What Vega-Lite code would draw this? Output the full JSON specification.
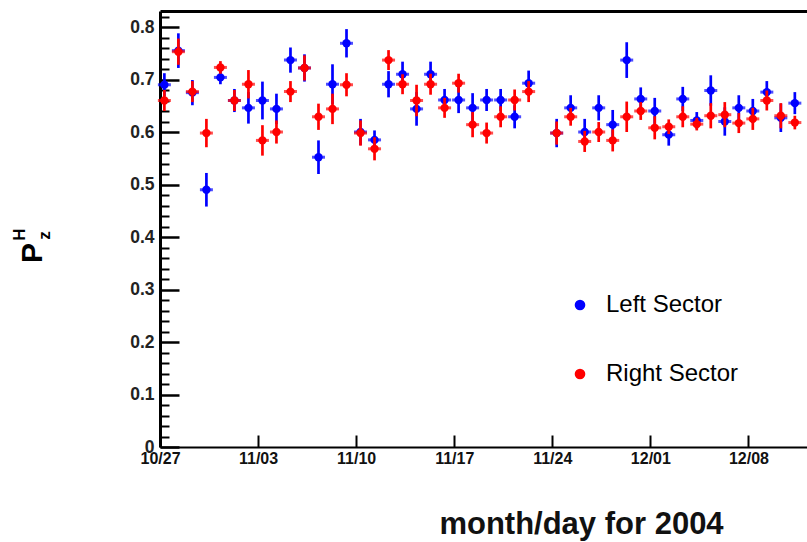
{
  "$schema": "https://vega.github.io/schema/vega-lite/v6.json",
  "width": 647,
  "height": 436,
  "autosize": {"type": "none"},
  "padding": {"left": 160, "top": 11, "right": 0, "bottom": 95},
  "background": "white",
  "config": {
    "view": {"stroke": null},
    "font": "Liberation Sans",
    "legend": {
      "orient": "none",
      "legendX": 408,
      "legendY": 282,
      "title": null,
      "padding": 0,
      "symbolType": "circle",
      "symbolSize": 113,
      "symbolStrokeWidth": 0,
      "labelFont": "Liberation Sans",
      "labelFontSize": 24,
      "labelColor": "black",
      "labelOffset": 14,
      "rowPadding": 45
    }
  },
  "data": {
    "values": [
      {"d": "2004-10-27T07:30:00Z", "s": "Left Sector", "v": 0.690, "e": 0.022},
      {"d": "2004-10-28T07:30:00Z", "s": "Left Sector", "v": 0.755, "e": 0.033},
      {"d": "2004-10-29T07:30:00Z", "s": "Left Sector", "v": 0.675, "e": 0.024},
      {"d": "2004-10-30T07:30:00Z", "s": "Left Sector", "v": 0.490, "e": 0.032},
      {"d": "2004-10-31T07:30:00Z", "s": "Left Sector", "v": 0.704, "e": 0.013},
      {"d": "2004-11-01T07:30:00Z", "s": "Left Sector", "v": 0.660, "e": 0.022},
      {"d": "2004-11-02T07:30:00Z", "s": "Left Sector", "v": 0.646, "e": 0.030},
      {"d": "2004-11-03T07:30:00Z", "s": "Left Sector", "v": 0.660, "e": 0.036},
      {"d": "2004-11-04T07:30:00Z", "s": "Left Sector", "v": 0.644, "e": 0.029},
      {"d": "2004-11-05T07:30:00Z", "s": "Left Sector", "v": 0.737, "e": 0.024},
      {"d": "2004-11-06T07:30:00Z", "s": "Left Sector", "v": 0.722, "e": 0.026},
      {"d": "2004-11-07T07:30:00Z", "s": "Left Sector", "v": 0.552, "e": 0.032},
      {"d": "2004-11-08T07:30:00Z", "s": "Left Sector", "v": 0.691, "e": 0.038},
      {"d": "2004-11-09T07:30:00Z", "s": "Left Sector", "v": 0.769, "e": 0.027},
      {"d": "2004-11-10T07:30:00Z", "s": "Left Sector", "v": 0.600, "e": 0.025},
      {"d": "2004-11-11T07:30:00Z", "s": "Left Sector", "v": 0.585, "e": 0.018},
      {"d": "2004-11-12T07:30:00Z", "s": "Left Sector", "v": 0.691, "e": 0.025},
      {"d": "2004-11-13T07:30:00Z", "s": "Left Sector", "v": 0.710, "e": 0.024},
      {"d": "2004-11-14T07:30:00Z", "s": "Left Sector", "v": 0.644, "e": 0.032},
      {"d": "2004-11-15T07:30:00Z", "s": "Left Sector", "v": 0.710, "e": 0.024},
      {"d": "2004-11-16T07:30:00Z", "s": "Left Sector", "v": 0.661, "e": 0.021},
      {"d": "2004-11-17T07:30:00Z", "s": "Left Sector", "v": 0.661, "e": 0.025},
      {"d": "2004-11-18T07:30:00Z", "s": "Left Sector", "v": 0.646, "e": 0.028},
      {"d": "2004-11-19T07:30:00Z", "s": "Left Sector", "v": 0.661, "e": 0.021},
      {"d": "2004-11-20T07:30:00Z", "s": "Left Sector", "v": 0.661, "e": 0.021},
      {"d": "2004-11-21T07:30:00Z", "s": "Left Sector", "v": 0.629, "e": 0.022},
      {"d": "2004-11-22T07:30:00Z", "s": "Left Sector", "v": 0.693, "e": 0.024},
      {"d": "2004-11-24T07:30:00Z", "s": "Left Sector", "v": 0.598, "e": 0.027},
      {"d": "2004-11-25T07:30:00Z", "s": "Left Sector", "v": 0.646, "e": 0.024},
      {"d": "2004-11-26T07:30:00Z", "s": "Left Sector", "v": 0.600, "e": 0.025},
      {"d": "2004-11-27T07:30:00Z", "s": "Left Sector", "v": 0.646, "e": 0.024},
      {"d": "2004-11-28T07:30:00Z", "s": "Left Sector", "v": 0.614, "e": 0.028},
      {"d": "2004-11-29T07:30:00Z", "s": "Left Sector", "v": 0.737, "e": 0.034},
      {"d": "2004-11-30T07:30:00Z", "s": "Left Sector", "v": 0.663, "e": 0.022},
      {"d": "2004-12-01T07:30:00Z", "s": "Left Sector", "v": 0.640, "e": 0.025},
      {"d": "2004-12-02T07:30:00Z", "s": "Left Sector", "v": 0.595, "e": 0.021},
      {"d": "2004-12-03T07:30:00Z", "s": "Left Sector", "v": 0.663, "e": 0.023},
      {"d": "2004-12-04T07:30:00Z", "s": "Left Sector", "v": 0.622, "e": 0.016},
      {"d": "2004-12-05T07:30:00Z", "s": "Left Sector", "v": 0.679, "e": 0.029},
      {"d": "2004-12-06T07:30:00Z", "s": "Left Sector", "v": 0.620, "e": 0.027},
      {"d": "2004-12-07T07:30:00Z", "s": "Left Sector", "v": 0.646, "e": 0.024},
      {"d": "2004-12-08T07:30:00Z", "s": "Left Sector", "v": 0.640, "e": 0.023},
      {"d": "2004-12-09T07:30:00Z", "s": "Left Sector", "v": 0.676, "e": 0.021},
      {"d": "2004-12-10T07:30:00Z", "s": "Left Sector", "v": 0.627, "e": 0.027},
      {"d": "2004-12-11T07:30:00Z", "s": "Left Sector", "v": 0.655, "e": 0.021},
      {"d": "2004-10-27T07:30:00Z", "s": "Right Sector", "v": 0.660, "e": 0.020},
      {"d": "2004-10-28T07:30:00Z", "s": "Right Sector", "v": 0.753, "e": 0.025},
      {"d": "2004-10-29T07:30:00Z", "s": "Right Sector", "v": 0.677, "e": 0.020},
      {"d": "2004-10-30T07:30:00Z", "s": "Right Sector", "v": 0.598, "e": 0.027},
      {"d": "2004-10-31T07:30:00Z", "s": "Right Sector", "v": 0.723, "e": 0.012},
      {"d": "2004-11-01T07:30:00Z", "s": "Right Sector", "v": 0.660, "e": 0.020},
      {"d": "2004-11-02T07:30:00Z", "s": "Right Sector", "v": 0.691, "e": 0.027},
      {"d": "2004-11-03T07:30:00Z", "s": "Right Sector", "v": 0.584, "e": 0.029},
      {"d": "2004-11-04T07:30:00Z", "s": "Right Sector", "v": 0.600, "e": 0.022},
      {"d": "2004-11-05T07:30:00Z", "s": "Right Sector", "v": 0.677, "e": 0.020},
      {"d": "2004-11-06T07:30:00Z", "s": "Right Sector", "v": 0.722, "e": 0.024},
      {"d": "2004-11-07T07:30:00Z", "s": "Right Sector", "v": 0.629, "e": 0.025},
      {"d": "2004-11-08T07:30:00Z", "s": "Right Sector", "v": 0.644, "e": 0.029},
      {"d": "2004-11-09T07:30:00Z", "s": "Right Sector", "v": 0.690, "e": 0.022},
      {"d": "2004-11-10T07:30:00Z", "s": "Right Sector", "v": 0.598, "e": 0.024},
      {"d": "2004-11-11T07:30:00Z", "s": "Right Sector", "v": 0.568, "e": 0.022},
      {"d": "2004-11-12T07:30:00Z", "s": "Right Sector", "v": 0.737, "e": 0.019},
      {"d": "2004-11-13T07:30:00Z", "s": "Right Sector", "v": 0.691, "e": 0.019},
      {"d": "2004-11-14T07:30:00Z", "s": "Right Sector", "v": 0.660, "e": 0.030},
      {"d": "2004-11-15T07:30:00Z", "s": "Right Sector", "v": 0.691, "e": 0.020},
      {"d": "2004-11-16T07:30:00Z", "s": "Right Sector", "v": 0.646, "e": 0.019},
      {"d": "2004-11-17T07:30:00Z", "s": "Right Sector", "v": 0.693, "e": 0.018},
      {"d": "2004-11-18T07:30:00Z", "s": "Right Sector", "v": 0.614, "e": 0.024},
      {"d": "2004-11-19T07:30:00Z", "s": "Right Sector", "v": 0.598, "e": 0.020},
      {"d": "2004-11-20T07:30:00Z", "s": "Right Sector", "v": 0.629, "e": 0.020},
      {"d": "2004-11-21T07:30:00Z", "s": "Right Sector", "v": 0.661, "e": 0.020},
      {"d": "2004-11-22T07:30:00Z", "s": "Right Sector", "v": 0.677, "e": 0.020},
      {"d": "2004-11-24T07:30:00Z", "s": "Right Sector", "v": 0.598, "e": 0.022},
      {"d": "2004-11-25T07:30:00Z", "s": "Right Sector", "v": 0.629, "e": 0.017},
      {"d": "2004-11-26T07:30:00Z", "s": "Right Sector", "v": 0.582, "e": 0.020},
      {"d": "2004-11-27T07:30:00Z", "s": "Right Sector", "v": 0.600, "e": 0.019},
      {"d": "2004-11-28T07:30:00Z", "s": "Right Sector", "v": 0.584, "e": 0.021},
      {"d": "2004-11-29T07:30:00Z", "s": "Right Sector", "v": 0.629, "e": 0.029},
      {"d": "2004-11-30T07:30:00Z", "s": "Right Sector", "v": 0.640, "e": 0.017},
      {"d": "2004-12-01T07:30:00Z", "s": "Right Sector", "v": 0.608, "e": 0.022},
      {"d": "2004-12-02T07:30:00Z", "s": "Right Sector", "v": 0.610, "e": 0.014},
      {"d": "2004-12-03T07:30:00Z", "s": "Right Sector", "v": 0.629, "e": 0.020},
      {"d": "2004-12-04T07:30:00Z", "s": "Right Sector", "v": 0.615, "e": 0.012},
      {"d": "2004-12-05T07:30:00Z", "s": "Right Sector", "v": 0.631, "e": 0.024},
      {"d": "2004-12-06T07:30:00Z", "s": "Right Sector", "v": 0.633, "e": 0.024},
      {"d": "2004-12-07T07:30:00Z", "s": "Right Sector", "v": 0.617, "e": 0.019},
      {"d": "2004-12-08T07:30:00Z", "s": "Right Sector", "v": 0.625, "e": 0.021},
      {"d": "2004-12-09T07:30:00Z", "s": "Right Sector", "v": 0.660, "e": 0.019},
      {"d": "2004-12-10T07:30:00Z", "s": "Right Sector", "v": 0.631, "e": 0.024},
      {"d": "2004-12-11T07:30:00Z", "s": "Right Sector", "v": 0.618, "e": 0.013}
    ]
  },
  "resolve": {"axis": {"x": "independent", "y": "independent"}},
  "layer": [
    {
      "transform": [{"filter": "datum.s === 'Left Sector'"}],
      "encoding": {
        "x": {
          "field": "d", "type": "temporal",
          "scale": {"type": "utc", "domain": [{"year": 2004, "month": 10, "date": 27, "utc": true}, {"year": 2004, "month": 12, "date": 12, "hours": 4, "minutes": 20, "utc": true}]},
          "axis": {
            "orient": "bottom",
            "values": [
              {"year": 2004, "month": 10, "date": 27, "utc": true},
              {"year": 2004, "month": 11, "date": 3, "utc": true},
              {"year": 2004, "month": 11, "date": 10, "utc": true},
              {"year": 2004, "month": 11, "date": 17, "utc": true},
              {"year": 2004, "month": 11, "date": 24, "utc": true},
              {"year": 2004, "month": 12, "date": 1, "utc": true},
              {"year": 2004, "month": 12, "date": 8, "utc": true}
            ],
            "labelExpr": "utcFormat(datum.value, '%m/%d')",
            "grid": false,
            "domainColor": "black",
            "domainWidth": 2,
            "tickColor": "black",
            "tickWidth": 2,
            "tickSize": -12,
            "labelFlush": false,
            "labelFont": "Liberation Sans Narrow, Liberation Sans, sans-serif",
            "labelFontWeight": "bold",
            "labelFontSize": 16,
            "labelColor": "#111",
            "labelPadding": 15,
            "title": "month/day for 2004",
            "titleFont": "Liberation Sans",
            "titleFontWeight": "bold",
            "titleFontSize": 31,
            "titleColor": "#111",
            "titleX": 421,
            "titleY": 86,
            "titleAlign": "center",
            "titleBaseline": "alphabetic"
          }
        },
        "y": {
          "field": "v", "type": "quantitative",
          "scale": {"domain": [0, 0.8305], "nice": false, "zero": false},
          "axis": {
            "orient": "left",
            "values": [0, 0.1, 0.2, 0.3, 0.4, 0.5, 0.6, 0.7, 0.8],
            "labelExpr": "datum.value === 0 ? '0' : format(datum.value, '.1f')",
            "grid": false,
            "domainColor": "black",
            "domainWidth": 3,
            "tickColor": "black",
            "tickWidth": 2.5,
            "tickSize": -19,
            "labelFont": "Liberation Sans",
            "labelFontWeight": "bold",
            "labelFontSize": 17.5,
            "labelColor": "#222",
            "labelPadding": 25,
            "title": "P",
            "titleFont": "Liberation Sans",
            "titleFontWeight": "bold",
            "titleFontSize": 30,
            "titleColor": "black",
            "titleAngle": 270,
            "titleX": -127.5,
            "titleY": 241.5,
            "titleAlign": "center",
            "titleBaseline": "middle"
          }
        },
        "color": {
          "field": "s", "type": "nominal",
          "scale": {"domain": ["Left Sector", "Right Sector"], "range": ["#0000ff", "#ff0000"]}
        }
      },
      "layer": [
        {"mark": {"type": "point", "filled": true, "size": 70, "opacity": 1}},
        {"mark": {"type": "errorbar", "thickness": 2.7}, "encoding": {"yError": {"field": "e"}}},
        {"mark": {"type": "tick", "orient": "horizontal", "size": 13, "thickness": 3}}
      ]
    },
    {
      "transform": [{"filter": "datum.s === 'Right Sector'"}],
      "encoding": {
        "x": {"field": "d", "type": "temporal", "axis": null},
        "y": {"field": "v", "type": "quantitative", "axis": null},
        "color": {
          "field": "s", "type": "nominal",
          "scale": {"domain": ["Left Sector", "Right Sector"], "range": ["#0000ff", "#ff0000"]}
        }
      },
      "layer": [
        {"mark": {"type": "point", "filled": true, "size": 70, "opacity": 1}},
        {"mark": {"type": "errorbar", "thickness": 2.7}, "encoding": {"yError": {"field": "e"}}},
        {"mark": {"type": "tick", "orient": "horizontal", "size": 13, "thickness": 3}}
      ]
    },
    {
      "mark": {"type": "point", "opacity": 0},
      "encoding": {
        "x": {
          "field": "d", "type": "temporal",
          "axis": {"orient": "top", "labels": false, "ticks": false, "grid": false, "domain": true, "domainColor": "black", "domainWidth": 3, "title": null}
        },
        "y": {
          "field": "v", "type": "quantitative",
          "axis": {
            "orient": "left",
            "values": [0.02, 0.04, 0.06, 0.08, 0.12, 0.14, 0.16, 0.18, 0.22, 0.24, 0.26, 0.28, 0.32, 0.34, 0.36, 0.38, 0.42, 0.44, 0.46, 0.48, 0.52, 0.54, 0.56, 0.58, 0.62, 0.64, 0.66, 0.68, 0.72, 0.74, 0.76, 0.78, 0.82],
            "labels": false,
            "domain": false,
            "grid": false,
            "tickColor": "black",
            "tickWidth": 2,
            "tickSize": -9,
            "title": "H",
            "titleFont": "Liberation Sans",
            "titleFontWeight": "bold",
            "titleFontSize": 17,
            "titleColor": "black",
            "titleAngle": 270,
            "titleX": -141,
            "titleY": 223,
            "titleAlign": "center",
            "titleBaseline": "middle"
          }
        }
      }
    },
    {
      "mark": {"type": "point", "opacity": 0},
      "encoding": {
        "y": {
          "field": "v", "type": "quantitative",
          "axis": {
            "orient": "left",
            "labels": false,
            "domain": false,
            "ticks": false,
            "grid": false,
            "title": "z",
            "titleFont": "Liberation Sans",
            "titleFontWeight": "bold",
            "titleFontSize": 17,
            "titleColor": "black",
            "titleAngle": 270,
            "titleX": -116,
            "titleY": 224,
            "titleAlign": "center",
            "titleBaseline": "middle"
          }
        }
      }
    }
  ]
}
